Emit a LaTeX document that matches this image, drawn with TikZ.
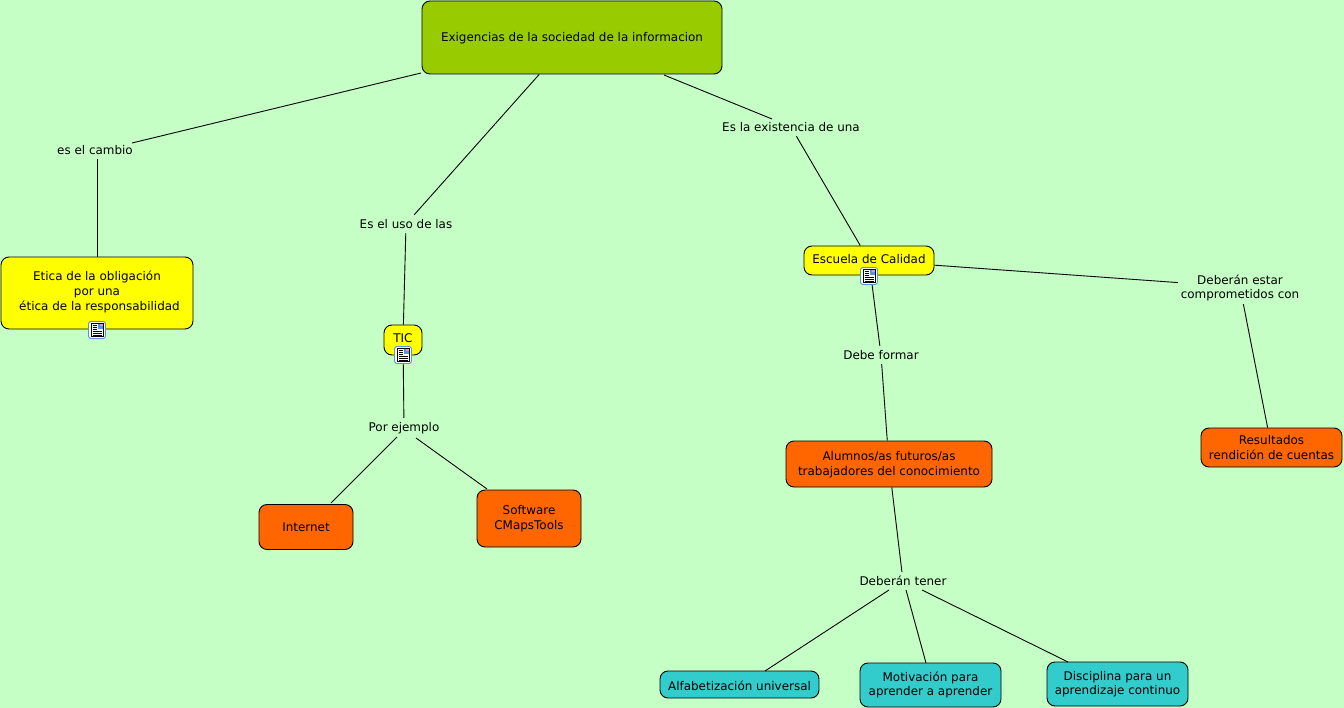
\documentclass[tikz,border=0pt]{standalone}
\usepackage{fontspec}
\setmainfont{DejaVu Sans}
\definecolor{bgc}{HTML}{C6FFC6}
\definecolor{rootc}{HTML}{99CC00}
\definecolor{yel}{HTML}{FFFF00}
\definecolor{ora}{HTML}{FF6600}
\definecolor{tea}{HTML}{33CCCC}
\definecolor{icb}{HTML}{5A94D8}
\newcommand{\nudge}[2]{\raisebox{#1}[\height][\depth]{#2}}
\tikzset{
  concept/.style={draw=black,line width=0.9pt,rounded corners=8pt,align=center,inner sep=0pt,font=\fontsize{11.95}{14.6}\selectfont},
  linklabel/.style={inner sep=0pt,align=center,font=\fontsize{11.95}{14.6}\selectfont},
  conn/.style={draw=black,line width=0.9pt},
  docicon/.pic={
    \draw[icb,fill=white,line width=0.9pt,rounded corners=2.5pt] (-8.5,-8.5) rectangle (8.5,8.5);
    \draw[black,fill=white,line width=0.5pt] (-6,-6.5) rectangle (6,6.5);
    \fill[icb] (0.5,-6) rectangle (5.6,-1);
    \fill[magenta!45!white] (3,-6) rectangle (5.6,-3.5);
    \foreach \yy in {1,3,5}{\draw[black,line width=0.55pt] (-4.5,\yy) -- (4.5,\yy);}
    \foreach \yy in {-4.5,-2.5,-0.5}{\draw[black,line width=0.55pt] (-4.5,\yy) -- (-0.5,\yy);}
  }
}
\begin{document}
\begin{tikzpicture}[x=1pt,y=-1pt]
\path[fill=bgc] (0,0) rectangle (1344,708);
\useasboundingbox (0,0) rectangle (1344,708);
\tikzset{every node/.append style={text=black}}
\node[concept,fill=rootc,minimum width=300pt,minimum height=73pt] (root) at (572,37.5) {\nudge{-1pt}{Exigencias de la sociedad de la informacion}};
\node[concept,fill=yel,minimum width=192pt,minimum height=72pt] (etica) at (97,293) {\nudge{1pt}{\parbox{190pt}{\centering Etica de la obligación\\por una\\\hspace*{5pt}ética de la responsabilidad}}};
\node[concept,fill=yel,minimum width=38pt,minimum height=30pt] (tic) at (403,340) {\nudge{2pt}{TIC}};
\node[concept,fill=yel,minimum width=130pt,minimum height=29pt] (escuela) at (869,260.5) {\nudge{1pt}{Escuela de Calidad}};
\node[concept,fill=ora,minimum width=94pt,minimum height=45pt] (internet) at (306,527) {Internet};
\node[concept,fill=ora,minimum width=104pt,minimum height=57pt] (software) at (529,518.5) {Software\\CMapsTools};
\node[concept,fill=ora,minimum width=206pt,minimum height=46pt] (alumnos) at (889,464) {\nudge{-1pt}{\parbox{204pt}{\centering Alumnos/as futuros/as\\trabajadores del conocimiento}}};
\node[concept,fill=ora,minimum width=141pt,minimum height=39pt] (resultados) at (1271.5,447.5) {Resultados\\rendición de cuentas};
\node[concept,fill=tea,minimum width=159pt,minimum height=27pt] (alfa) at (739.5,684.5) {\nudge{-1pt}{Alfabetización universal}};
\node[concept,fill=tea,minimum width=141pt,minimum height=44pt] (moti) at (930.5,685) {Motivación para\\aprender a aprender};
\node[concept,fill=tea,minimum width=141pt,minimum height=44pt] (disc) at (1117.5,684) {Disciplina para un\\aprendizaje continuo};
\node[linklabel,minimum width=78pt,minimum height=18pt] (l1) at (95,150) {es el cambio};
\node[linklabel,minimum width=96pt,minimum height=18pt] (l2) at (406,224) {Es el uso de las};
\node[linklabel,minimum width=140pt,minimum height=18pt] (l3) at (791,127) {Es la existencia de una};
\node[linklabel,minimum width=76pt,minimum height=18pt] (l4) at (404,427) {\nudge{-1pt}{Por ejemplo}};
\node[linklabel,minimum width=78pt,minimum height=18pt] (l5) at (881,355) {Debe formar};
\node[linklabel,minimum width=124pt,minimum height=34pt] (l6) at (1240,287) {\nudge{-1pt}{\parbox{122pt}{\centering Deberán estar\\comprometidos con}}};
\node[linklabel,minimum width=90pt,minimum height=18pt] (l7) at (903,581) {Deberán tener};
\draw[conn] ([shift={(-151,35.5)}]root.center) -- ([shift={(37,-7)}]l1.center);
\draw[conn] (l1.south -| etica.north) -- (etica.north);
\draw[conn] (root) -- (l2);
\draw[conn] (l2) -- (tic);
\draw[conn] (tic) -- (l4);
\draw[conn] ([shift={(-7,10)}]l4.center) -- ([shift={(25,-24)}]internet.center);
\draw[conn] ([shift={(12,11)}]l4.center) -- ([shift={(-42,-29.5)}]software.center);
\draw[conn] ([shift={(92,37.5)}]root.center) -- ([shift={(-19,-8)}]l3.center);
\draw[conn] (l3) -- (escuela);
\draw[conn] (escuela) -- (l5);
\draw[conn] (l5) -- (alumnos);
\draw[conn] (escuela) -- (l6);
\draw[conn] (l6) -- (resultados);
\draw[conn] (alumnos) -- (l7);
\draw[conn] ([shift={(-14,9)}]l7.center) -- ([shift={(25.5,-13.5)}]alfa.center);
\draw[conn] ([shift={(3,9)}]l7.center) -- ([shift={(-4.5,-22)}]moti.center);
\draw[conn] ([shift={(19,9)}]l7.center) -- ([shift={(-49.5,-22)}]disc.center);
\pic at (97,330) {docicon};
\pic at (403,355) {docicon};
\pic at (869,276) {docicon};
\end{tikzpicture}
\end{document}
